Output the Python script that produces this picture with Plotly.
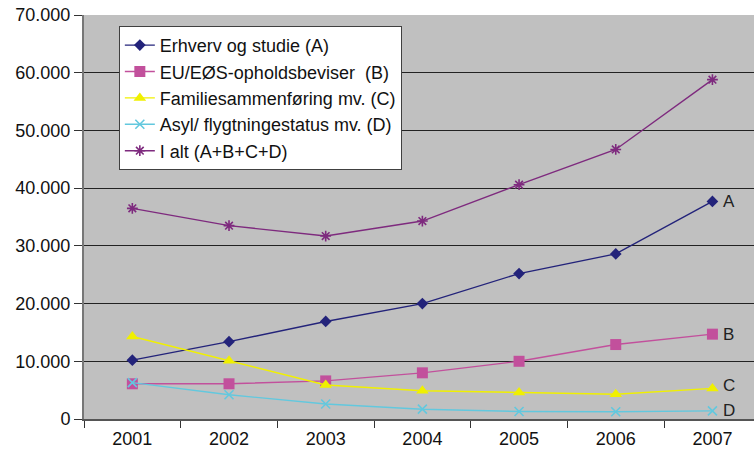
import plotly.graph_objects as go

years = ["2001", "2002", "2003", "2004", "2005", "2006", "2007"]
erhverv = [10200, 13400, 16900, 20000, 25200, 28600, 37700]
eu_eos = [6100, 6100, 6600, 8000, 10000, 12900, 14700]
familie = [14300, 10100, 5900, 4900, 4600, 4300, 5300]
asyl = [6300, 4200, 2600, 1700, 1300, 1250, 1400]
i_alt = [36500, 33500, 31700, 34300, 40600, 46700, 58800]

y_ticks = [0, 10000, 20000, 30000, 40000, 50000, 60000, 70000]
y_labels = ["0", "10.000", "20.000", "30.000", "40.000", "50.000", "60.000", "70.000"]

series = [
    ("Erhverv og studie (A)", erhverv, "#23237A", "diamond", 9, "A"),
    ("EU/EØS-opholdsbeviser  (B)", eu_eos, "#C2509C", "square", 11, "B"),
    ("Familiesammenføring mv. (C)", familie, "#F0F000", "triangle-up", 11, "C"),
    ("Asyl/ flygtningestatus mv. (D)", asyl, "#62C8DE", "x-thin-open", 9, "D"),
    ("I alt (A+B+C+D)", i_alt, "#7E2A7E", "asterisk-open", 9, None),
]

fig = go.Figure()
for name, vals, color, sym, size, lab in series:
    marker = dict(symbol=sym, size=size, color=color)
    if sym.endswith("-open"):
        marker["line"] = dict(color=color, width=1.6)
    fig.add_trace(go.Scatter(
        x=years, y=vals, name=name, mode="lines+markers",
        line=dict(color=color, width=1.4), marker=marker,
    ))

label_shift = {"A": 0, "B": 0, "C": 3, "D": 0}
last_index = len(years) - 1
for name, vals, color, sym, size, lab in series:
    if lab:
        fig.add_annotation(x=last_index, y=vals[-1], xref="x", yref="y",
                           text=lab, showarrow=False,
                           xanchor="left", xshift=9, yshift=label_shift[lab],
                           font=dict(family="Liberation Sans, Arial", size=17, color="#222222"))

fig.update_layout(
    width=754, height=451,
    margin=dict(l=84, r=0, t=15, b=32, autoexpand=False),
    paper_bgcolor="white", plot_bgcolor="#C0C0C0",
    font=dict(family="Liberation Sans, Arial", size=18, color="#111111"),
    showlegend=True,
    legend=dict(x=0.052, y=0.973, xanchor="left", yanchor="top",
                bgcolor="white", bordercolor="#404040", borderwidth=1,
                font=dict(size=18, color="#111111"), itemwidth=30,
                tracegroupgap=0),
)
fig.update_xaxes(
    type="category", range=[-0.5, 6.43], tickson="boundaries",
    ticks="outside", ticklen=7, tickcolor="#333333", automargin=False,
    ticklabelstandoff=3,
    showline=True, linecolor="#555555", linewidth=1.5,
    showgrid=False, zeroline=False,
)
fig.update_yaxes(
    range=[0, 70000], tickvals=y_ticks, ticktext=y_labels, automargin=False,
    ticks="outside", ticklen=8, tickcolor="#333333",
    showline=True, linecolor="#777777", linewidth=2,
    showgrid=True, gridcolor="#222222", gridwidth=1, zeroline=False,
)

fig.write_html(
    "out.html",
    config={"displayModeBar": False},
    post_script="document.body.style.margin='0';document.body.style.overflow='hidden';",
)
